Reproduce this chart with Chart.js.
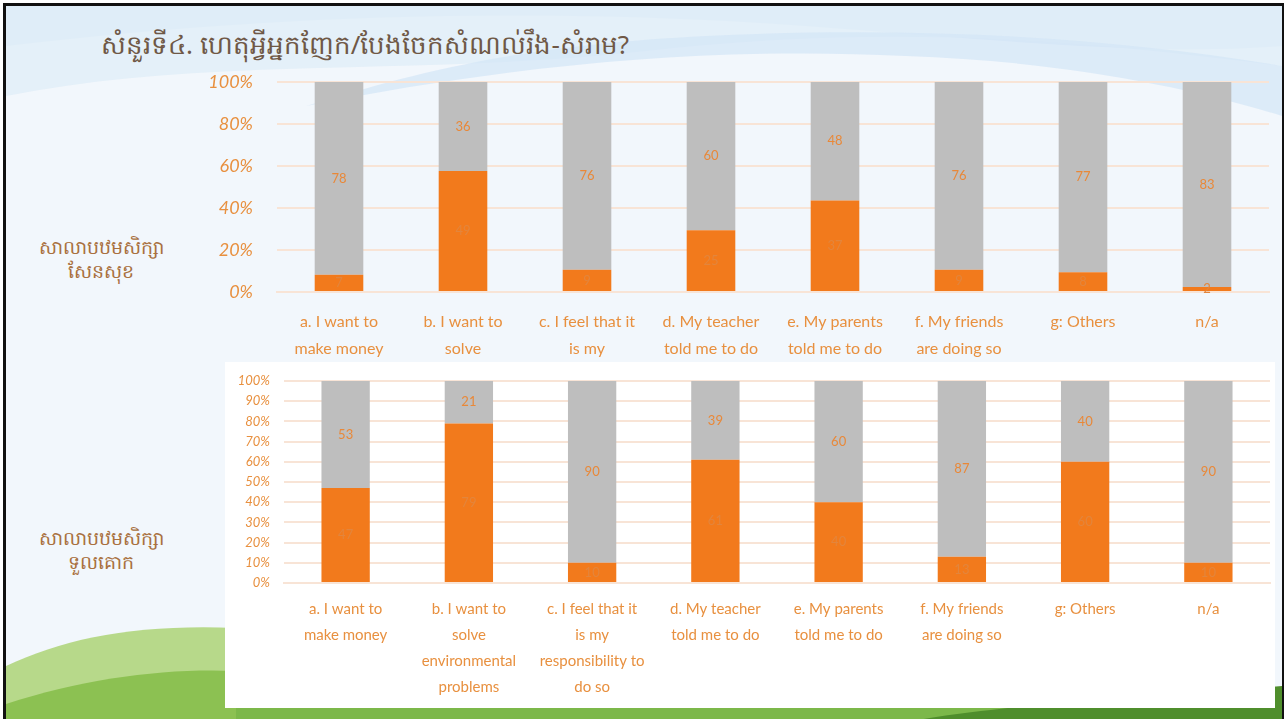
<!DOCTYPE html>
<html>
<head>
<meta charset="utf-8">
<script src="https://cdn.jsdelivr.net/npm/chart.js@4"></script>
<style>
  html, body { margin: 0; padding: 0; }
  body { width: 1284px; height: 719px; overflow: hidden; background: #fff; position: relative; font-family: Lato, "Noto Sans", sans-serif; }
  #slide { position: absolute; left: 3px; top: 3px; width: 1276px; height: 720px; border: 3px solid #111; border-bottom: none; background: #f2f7fc; overflow: hidden; }
  #deco { position: absolute; left: 0; top: 0; }
  #title { position: absolute; left: 95px; top: 20px; font-size: 26px; color: #6f5846; white-space: nowrap; font-family: "Noto Sans", sans-serif; }
  .side { position: absolute; color: #a9713f; font-size: 19px; text-align: center; width: 170px; line-height: 24px; font-family: "Noto Sans", sans-serif; }
  #panel { position: absolute; left: 219px; top: 356px; width: 1050px; height: 346px; background: #fff; }
  #topBox { position: absolute; left: 184px; top: 56px; width: 1085px; height: 300px; }
  #botBox { position: absolute; left: 219px; top: 356px; width: 1050px; height: 346px; }
</style>
</head>
<body>
<div id="slide">
  <svg id="deco" width="1276" height="716">
    <path d="M0,40 C250,10 520,0 800,20 C1000,35 1150,50 1276,40 L1276,0 L0,0 Z" fill="#dceaf7"/>
    <path d="M0,90 C200,50 420,70 640,45 C860,20 1050,30 1276,60 L1276,0 L0,0 Z" fill="#e0edf8" opacity="0.8"/>
    <path d="M300,100 C500,60 700,40 900,50 C1050,55 1180,80 1276,110 L1276,60 C1100,30 900,20 700,30 C500,40 400,70 300,100 Z" fill="#d3e5f6" opacity="0.7"/>
    <path d="M0,660 C60,632 130,618 230,622 L230,716 L0,716 Z" fill="#b7d98a"/>
    <path d="M0,698 C80,672 160,662 230,665 L230,716 L0,716 Z" fill="#8cc152"/>
    <path d="M230,700 C500,690 800,690 1276,685 L1276,716 L230,716 Z" fill="#7cb84a"/>
    <path d="M900,716 C1000,698 1150,690 1276,680 L1276,716 Z" fill="#4f8e2c"/>
  </svg>
  <div id="title">សំនួរទី៤. ហេតុអ្វីអ្នកញែក/បែងចែកសំណល់រឹង-សំរាម?</div>
  <div class="side" style="left:10px; top:229px;">សាលាបឋមសិក្សា<br>សែនសុខ</div>
  <div class="side" style="left:10px; top:520px;">សាលាបឋមសិក្សា<br>ទួលគោក</div>
  <div id="panel"></div>
  <div id="topBox"><canvas id="topChart"></canvas></div>
  <div id="botBox"><canvas id="botChart"></canvas></div>
</div>
<script>
// categories (top chart shows only first two lines of each label)
const topLabels = [
  ['a. I want to', 'make money'],
  ['b. I want to', 'solve'],
  ['c. I feel that it', 'is my'],
  ['d. My teacher', 'told me to do'],
  ['e. My parents', 'told me to do'],
  ['f. My friends', 'are doing so'],
  ['g: Others'],
  ['n/a']
];
const botLabels = [
  ['a. I want to', 'make money'],
  ['b. I want to', 'solve', 'environmental', 'problems'],
  ['c. I feel that it', 'is my', 'responsibility to', 'do so'],
  ['d. My teacher', 'told me to do'],
  ['e. My parents', 'told me to do'],
  ['f. My friends', 'are doing so'],
  ['g: Others'],
  ['n/a']
];

// counts: school 1 (top) and school 2 (bottom)
const topYes = [7, 49, 9, 25, 37, 9, 8, 2];
const topNo = [78, 36, 76, 60, 48, 76, 77, 83];
const botYes = [47, 79, 10, 61, 40, 13, 60, 10];
const botNo = [53, 21, 90, 39, 60, 87, 40, 90];

const orange = '#f27a1c';
const grey = '#bebebe';
const tickColor = '#e8903f';
const gridColor = '#f8e4d6';

function toPct(a, b) {
  return a.map((v, i) => v / (v + b[i]) * 100);
}

const segLabels = {
  id: 'segLabels',
  afterDatasetsDraw(chart, args, opts) {
    const ctx = chart.ctx;
    ctx.save();
    ctx.font = opts.size + 'px Lato, "Noto Sans", sans-serif';
    ctx.textAlign = 'center';
    ctx.textBaseline = 'middle';
    chart.data.datasets.forEach((ds, i) => {
      const meta = chart.getDatasetMeta(i);
      ctx.fillStyle = ds.labelColor;
      meta.data.forEach((bar, j) => {
        const p = bar.getProps(['x', 'y', 'base'], true);
        ctx.fillText(ds.counts[j], p.x, (p.y + p.base) / 2);
      });
    });
    ctx.restore();
  }
};

function makeChart(id, labels, yes, no, o) {
  return new Chart(document.getElementById(id), {
    type: 'bar',
    data: {
      labels: labels,
      datasets: [
        { data: toPct(yes, no), counts: yes, backgroundColor: orange, labelColor: '#e3853c' },
        { data: toPct(no, yes), counts: no, backgroundColor: grey, labelColor: '#e98838' }
      ]
    },
    options: {
      responsive: true,
      maintainAspectRatio: false,
      animation: false,
      categoryPercentage: 0.8,
      barPercentage: 0.49,
      layout: { padding: { top: o.padTop, right: o.padRight, bottom: 0, left: 0 } },
      plugins: {
        legend: { display: false },
        tooltip: { enabled: false },
        segLabels: { size: o.labelSize }
      },
      scales: {
        x: {
          stacked: true,
          grid: { display: false },
          border: { color: gridColor, width: 2 },
          ticks: {
            color: tickColor,
            padding: o.xPad,
            maxRotation: 0,
            autoSkip: false,
            font: { family: 'Lato, "Noto Sans", sans-serif', size: o.xSize, lineHeight: o.xLine / o.xSize }
          },
          afterFit(s) { s.height = o.xHeight; }
        },
        y: {
          stacked: true,
          min: 0,
          max: 100,
          grid: { color: gridColor, lineWidth: 2, drawTicks: false },
          border: { display: false },
          ticks: {
            stepSize: o.step,
            color: tickColor,
            padding: o.yPad,
            font: { family: 'Lato, "Noto Sans", sans-serif', size: o.ySize, style: 'italic' },
            callback: v => v + '%'
          },
          afterFit(s) {
            s.width = o.yWidth;
            s.paddingTop = 0;
            s.paddingBottom = 0;
          }
        }
      }
    },
    plugins: [segLabels]
  });
}

makeChart('topChart', topLabels, topYes, topNo, {
  padTop: 20, padRight: 6, xPad: 8, xSize: 16, xLine: 27, xHeight: 70,
  step: 20, ySize: 18, yPad: 24, yWidth: 87, labelSize: 13
});
makeChart('botChart', botLabels, botYes, botNo, {
  padTop: 19, padRight: 5, xPad: 5, xSize: 15, xLine: 26, xHeight: 125,
  step: 10, ySize: 13, yPad: 14, yWidth: 59, labelSize: 13
});
</script>
</body>
</html>
